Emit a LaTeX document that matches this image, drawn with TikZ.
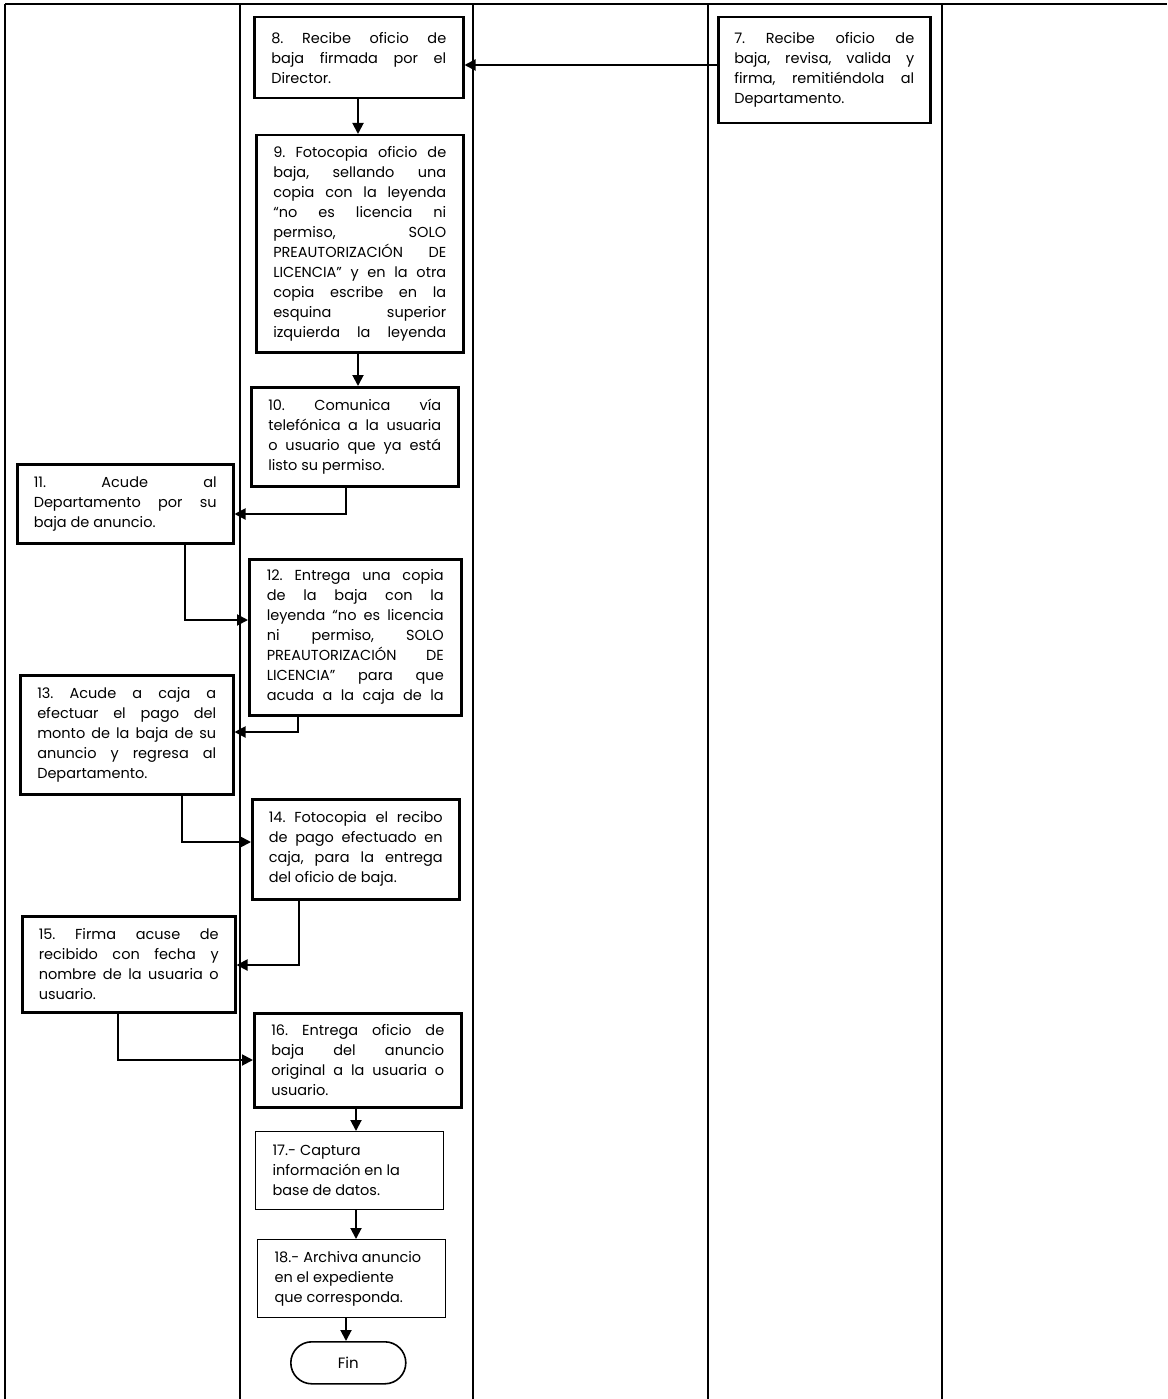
\documentclass[tikz,border=0pt]{standalone}
\usepackage{fontspec}
\setmainfont{Poppins}
\usetikzlibrary{arrows.meta}
\frenchspacing
\newcommand{\jl}[1]{\makebox[\linewidth][s]{#1}\par}
\newcommand{\plainline}[1]{#1\par}
\newcommand{\boxtext}[2]{\parbox{#1pt}{\frenchspacing\fontsize{14.5}{20}\selectfont #2}}
\tikzset{
  lane/.style={line width=1.6pt},
  stepbox/.style={draw, line width=2.5pt, anchor=north west, inner sep=0pt},
  thinbox/.style={draw, line width=1.2pt, anchor=north west, inner sep=0pt},
  endbox/.style={draw, line width=1.6pt, anchor=north west, inner sep=0pt, rounded corners=21pt, font=\fontsize{15}{20}\selectfont},
  arr/.style={line width=1.9pt, -{Triangle[length=11pt,width=11pt]}}
}
\begin{document}
\begin{tikzpicture}[x=1pt,y=-1pt]
\useasboundingbox (0,0) rectangle (1167,1399);
% swimlane grid
\draw[lane] (5,4) -- (1167,4);
\foreach \xx in {5,240,473,708,942} \draw[lane] (\xx,4) -- (\xx,1399);

% step boxes
\node[stepbox, minimum width=212, minimum height=106] (b7) at (717,16)
 {\boxtext{180}{\jl{7. Recibe oficio de}\jl{baja, revisa, valida y}\jl{firma, remitiéndola al}\plainline{Departamento.}}};
\node[stepbox, minimum width=209, minimum height=81] (b8) at (253,16)
 {\boxtext{175}{\jl{8. Recibe oficio de}\jl{baja firmada por el}\plainline{Director.}}};
\node[stepbox, minimum width=207, minimum height=217] (b9) at (255,134)
 {\boxtext{173}{\jl{9. Fotocopia oficio de}\jl{baja, sellando una}\jl{copia con la leyenda}\jl{“no es licencia ni}\jl{permiso, SOLO}\jl{PREAUTORIZACIÓN DE}\jl{LICENCIA” y en la otra}\jl{copia escribe en la}\jl{esquina superior}\jl{izquierda la leyenda}}};
\node[stepbox, minimum width=207, minimum height=99] (b10) at (250,386)
 {\boxtext{173}{\jl{10. Comunica vía}\jl{telefónica a la usuaria}\jl{o usuario que ya está}\plainline{listo su permiso.}}};
\node[stepbox, minimum width=216, minimum height=79] (b11) at (16,463)
 {\boxtext{183}{\jl{11. Acude al}\jl{Departamento por su}\plainline{baja de anuncio.}}};
\node[stepbox, minimum width=212, minimum height=156] (b12) at (248,558)
 {\boxtext{177}{\jl{12. Entrega una copia}\jl{de la baja con la}\jl{leyenda “no es licencia}\jl{ni permiso, SOLO}\jl{PREAUTORIZACIÓN DE}\jl{LICENCIA” para que}\jl{acuda a la caja de la}}};
\node[stepbox, minimum width=213, minimum height=119] (b13) at (19,674)
 {\boxtext{179}{\jl{13. Acude a caja a}\jl{efectuar el pago del}\jl{monto de la baja de su}\jl{anuncio y regresa al}\plainline{Departamento.}}};
\node[stepbox, minimum width=207, minimum height=100] (b14) at (251,798)
 {\boxtext{174}{\jl{14. Fotocopia el recibo}\jl{de pago efectuado en}\jl{caja, para la entrega}\plainline{del oficio de baja.}}};
\node[stepbox, minimum width=213, minimum height=96] (b15) at (21,915)
 {\boxtext{180}{\jl{15. Firma acuse de}\jl{recibido con fecha y}\jl{nombre de la usuaria o}\plainline{usuario.}}};
\node[stepbox, minimum width=207, minimum height=94] (b16) at (253,1012)
 {\boxtext{173}{\jl{16. Entrega oficio de}\jl{baja del anuncio}\jl{original a la usuaria o}\plainline{usuario.}}};
\node[thinbox, minimum width=188, minimum height=78] (b17) at (255,1131)
 {\boxtext{154}{\plainline{17.- Captura}\plainline{información en la}\plainline{base de datos.}}};
\node[thinbox, minimum width=188, minimum height=78] (b18) at (257,1239)
 {\boxtext{154}{\plainline{18.- Archiva anuncio}\plainline{en el expediente}\plainline{que corresponda.}}};
\node[endbox, minimum width=115, minimum height=42] (fin) at (290,1341) {Fin};

% connectors
\draw[arr] (b7.west |- 0,65) -- (b8.east |- 0,65);
\draw[arr] (b8.south -| 358,0) -- (b9.north -| 358,0);
\draw[arr] (b9.south -| 358,0) -- (b10.north -| 358,0);
\draw[arr] (b10.south -| 346,0) |- (b11.east |- 0,514);
\draw[arr] (b11.south -| 185,0) |- (b12.west |- 0,620);
\draw[arr] (b12.south -| 298,0) |- (b13.east |- 0,732);
\draw[arr] (b13.south -| 182,0) |- (b14.west |- 0,842);
\draw[arr] (b14.south -| 299,0) |- (b15.east |- 0,965);
\draw[arr] (b15.south -| 118,0) |- (b16.west |- 0,1060);
\draw[arr] (b16.south -| 356,0) -- (b17.north -| 356,0);
\draw[arr] (b17.south -| 356,0) -- (b18.north -| 356,0);
\draw[arr] (b18.south -| 346,0) -- (fin.north -| 346,0);
\end{tikzpicture}
\end{document}
